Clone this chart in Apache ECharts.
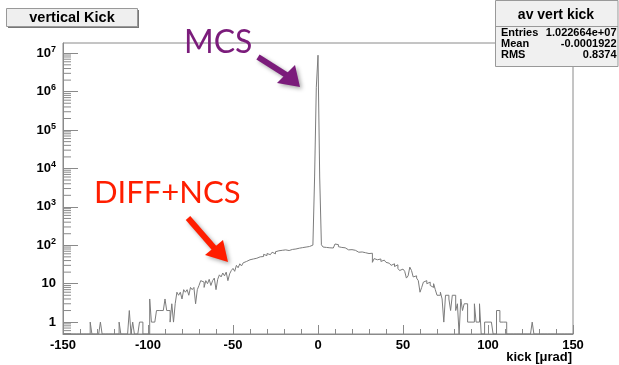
<!DOCTYPE html>
<html><head><meta charset="utf-8">
<script src="https://cdn.jsdelivr.net/npm/echarts@6/dist/echarts.min.js"></script>
<style>html,body{margin:0;padding:0;background:#fff}#c{width:619px;height:365px}</style>
</head><body><div id="c"></div>
<script>
// ---- data ----
const xMin = -150, xMax = 150, binWidth = 1;
// counts per 1 µrad bin, bins -150 .. -1
const countsNeg = [
  0,0,0,0,0,0,0,0,0,0,
  0,0,0,0,0,0,1,0,0,0,
  0,0,1,0,0,0,0,0,0,0,
  0,0,0,1,0,0,0,0,0,2,
  0,1,0,0,0,1,1,0,0,0,
  0,4,1,1,1,2,2,2,2,2,
  4,2,2,1,3,1,3,6,5,6,
  4,7,6,7,5,8,7,8,3,7,
  9,12,11,8,12,10,13,9,12,14,
  7,13,17,15,19,16,20,12,18,22,
  25,21,30,26,33,29,35,38,34,42,
  39,44,40,46,43,50,55,51,58,54,
  61,57,63,66,60,68,72,65,74,70,
  76,79,73,82,78,85,80,88,84,91,
  87,95,90,98,93,96,101,97,6000,1300000
];
// bins 0 .. 149
const countsPos = [
  8900000,6000,103,90,88,84,86,82,85,80,
  108,104,92,88,90,86,78,76,72,77,
  70,74,68,66,62,67,60,64,58,61,
  55,62,36,45,42,40,44,38,41,39,
  36,34,32,30,33,28,31,25,22,24,
  23,21,14,16,27,22,15,16,14,12,
  6,8,11,12,10,11,9,8,10,7,
  5,5,6,4,1,5,5,4,2,5,
  5,2,3,0,4,2,3,3,1,1,
  1,1,3,1,1,3,0,0,1,1,
  1,1,1,0,0,2,2,1,1,1,
  1,0,0,0,0,0,0,0,0,0,
  0,0,0,0,0,0,1,0,0,0,
  0,0,0,0,0,0,0,0,0,0,
  0,0,0,0,0,0,0,0,0,0
];
const xTickLabels = ['-150','-100','-50','0','50','100','150'];
const yTickValues = [1,10,100,1000,10000,100000,1000000,10000000];
const yTickLabels = ['1','10','{b|10}{s|2}','{b|10}{s|3}','{b|10}{s|4}','{b|10}{s|5}','{b|10}{s|6}','{b|10}{s|7}'];
const yMinorMantissas = [2,3,4,5,6,7,8,9];
const yMin = 0.49, yMax = 1.85e7;
const histTitle = 'vertical Kick';
const xTitle = 'kick [\u03bcrad]';
const statsTitle = 'av vert kick';
const statsNames = ['Entries','Mean','RMS'];
const statsValues = ['1.022664e+07','-0.0001922','0.8374'];
const noteMCS = 'MCS';
const noteDiff = 'DIFF+NCS';

// ---- build ----
const counts = countsNeg.concat(countsPos);
const histData = counts.map((c,i) => [xMin + i*binWidth, c > 0 ? c : yMin]);
histData.push([xMax, histData[histData.length-1][1]]);

const minorVals = [];
for (let e = -1; e <= 7; e++) {
  yMinorMantissas.forEach(m => {
    const v = m * Math.pow(10, e);
    if (v > yMin && v < yMax) minorVals.push([xMin, v]);
  });
}

const frameColor = '#8a8a8a';
const font = 'Liberation Sans, Arial, Helvetica, sans-serif';

const chart = echarts.init(document.getElementById('c'), null, {renderer:'canvas'});

const statsGraphics = [];
statsNames.forEach((n,i) => {
  statsGraphics.push({type:'text', x:501, y:32.5 + i*11, z:101,
    style:{text:n, fill:'#000', font:'bold 11px ' + font, textAlign:'left', textVerticalAlign:'middle'}});
  statsGraphics.push({type:'text', x:616.5, y:32.5 + i*11, z:101,
    style:{text:statsValues[i], fill:'#000', font:'bold 11px ' + font, textAlign:'right', textVerticalAlign:'middle'}});
});

const shadow = {shadowBlur:4, shadowOffsetX:2, shadowOffsetY:2, shadowColor:'rgba(0,0,0,0.35)'};

chart.setOption({
  animation: false,
  grid: {left:63, right:46, top:43, bottom:31, show:true, borderColor:frameColor, borderWidth:1,
         containLabel:false, outerBoundsMode:'none'},
  xAxis: {
    type:'value', min:xMin, max:xMax, interval:50,
    axisLine:{show:true, onZero:false, lineStyle:{color:frameColor}},
    axisTick:{show:true, inside:true, length:9, lineStyle:{color:frameColor}},
    minorTick:{show:true, splitNumber:5, length:5, lineStyle:{color:frameColor}},
    splitLine:{show:false},
    axisLabel:{color:'#000', fontFamily:font, fontWeight:'bold', fontSize:13, margin:5,
      formatter: v => xTickLabels[Math.round((v - xMin)/50)] || ''}
  },
  yAxis: {
    type:'log', logBase:10, min:yMin, max:yMax,
    axisLine:{show:true, onZero:false, lineStyle:{color:frameColor}},
    axisTick:{show:true, inside:true, length:15, lineStyle:{color:frameColor}},
    splitLine:{show:false},
    axisLabel:{
      margin:7, showMinLabel:false, showMaxLabel:false,
      formatter: v => {
        const idx = yTickValues.findIndex(t => Math.abs(t - v) / t < 1e-6);
        return idx >= 0 ? yTickLabels[idx] : '';
      },
      color:'#000', fontFamily:font, fontWeight:'bold', fontSize:13,
      rich:{
        b:{fontFamily:font, fontWeight:'bold', fontSize:13, color:'#000'},
        s:{fontFamily:font, fontWeight:'bold', fontSize:9, color:'#000', padding:[0,0,8,0]}
      }
    }
  },
  series: [
    {
      type:'custom', coordinateSystem:'cartesian2d', data:minorVals, silent:true, z:3,
      encode:{x:0, y:1},
      renderItem: (params, api) => {
        const p = api.coord([api.value(0), api.value(1)]);
        return {type:'line', shape:{x1:p[0], y1:p[1], x2:p[0]+8, y2:p[1]},
          style:{stroke:frameColor, lineWidth:1}};
      }
    },
    {
      type:'line', step:'end', data:histData, showSymbol:false, symbol:'none', z:4,
      lineStyle:{color:'#7c7c7c', width:1}, silent:true
    }
  ],
  graphic: [
    // title box
    {type:'rect', shape:{x:8, y:10, width:131, height:18}, style:{fill:'#777'}, z:99},
    {type:'rect', shape:{x:6.5, y:8.5, width:131, height:18}, style:{fill:'#efefef', stroke:'#999', lineWidth:1}, z:100},
    {type:'text', x:72, y:18, z:101, style:{text:histTitle, fill:'#000', font:'bold 14.5px ' + font, textAlign:'center', textVerticalAlign:'middle'}},
    // x axis title
    {type:'text', x:572, y:357, z:101, style:{text:xTitle, fill:'#000', font:'bold 13px ' + font, textAlign:'right', textVerticalAlign:'middle'}},
    // stats box
    {type:'rect', shape:{x:495.5, y:0.5, width:122.5, height:66}, style:{fill:'#f0f0f0', stroke:'#999', lineWidth:1}, z:100},
    {type:'line', shape:{x1:495.5, y1:26.5, x2:618, y2:26.5}, style:{stroke:'#999', lineWidth:1}, z:101},
    {type:'text', x:556, y:15.5, z:101, style:{text:statsTitle, fill:'#000', font:'bold 14px ' + font, textAlign:'center', textVerticalAlign:'middle'}},
    ...statsGraphics,
    // annotations
    {type:'text', x:184, y:43, z:110, style:{text:noteMCS, fill:'#7b1c7b', font:'32px Lato, sans-serif', textAlign:'left', textVerticalAlign:'middle'}},
    {type:'line', shape:{x1:258, y1:57, x2:288, y2:76}, z:110, style:Object.assign({stroke:'#7b1c7b', lineWidth:6}, shadow)},
    {type:'polygon', shape:{points:[[300,87],[277,83],[295,65]]}, z:110, style:Object.assign({fill:'#7b1c7b'}, shadow)},
    {type:'text', x:94, y:192.5, z:110, style:{text:noteDiff, fill:'#ff1e00', font:'31px Lato, sans-serif', textAlign:'left', textVerticalAlign:'middle'}},
    {type:'line', shape:{x1:188, y1:218, x2:215, y2:249}, z:110, style:Object.assign({stroke:'#ff1e00', lineWidth:6}, shadow)},
    {type:'polygon', shape:{points:[[228,262],[205,255],[223,240]]}, z:110, style:Object.assign({fill:'#ff1e00'}, shadow)}
  ]
});
</script>
</body></html>
